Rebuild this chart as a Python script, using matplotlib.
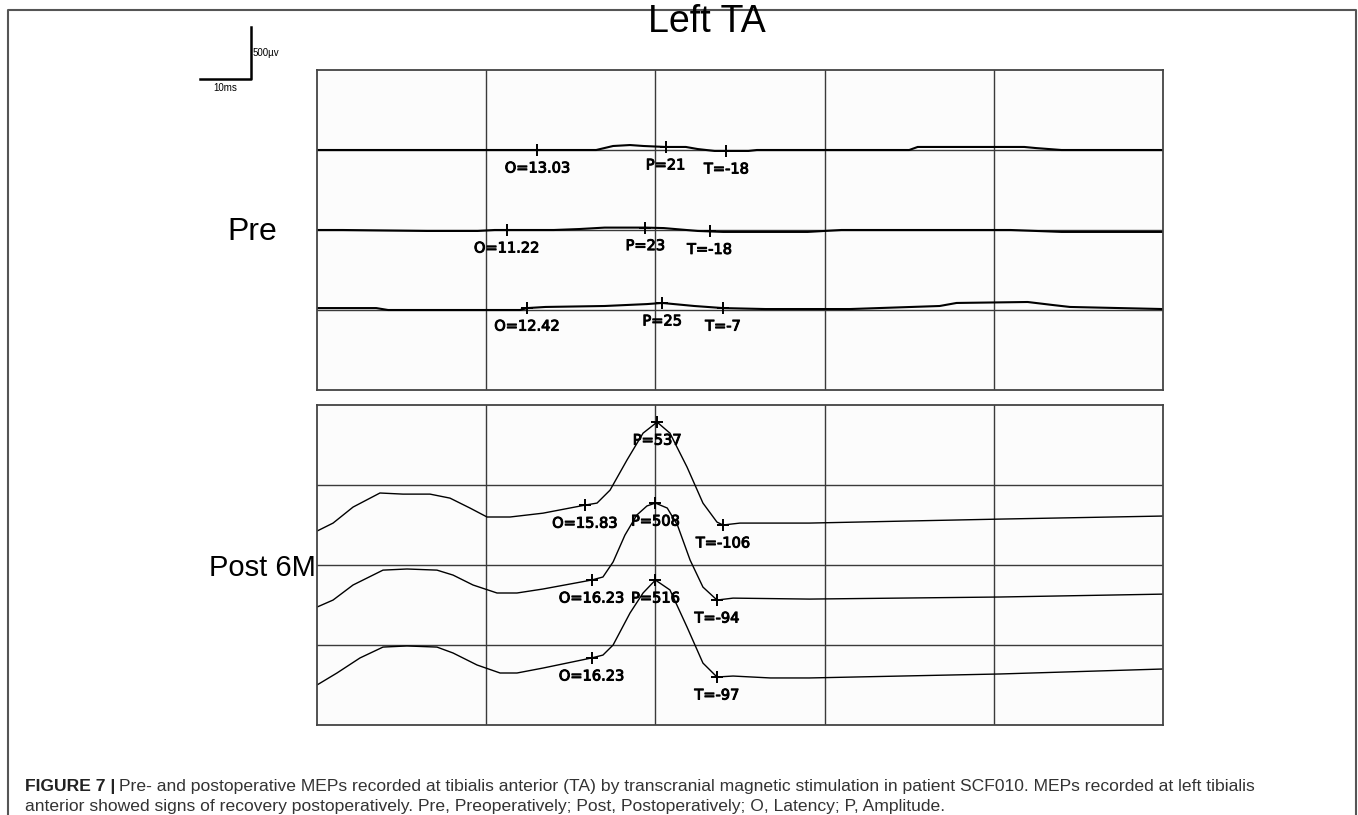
#!/usr/bin/env python3
"""
Left TA MEP traces, pre vs post 6 months
"""

import numpy as np
import matplotlib
matplotlib.use('Agg')
import matplotlib.pyplot as plt
import matplotlib.patheffects as pe
from matplotlib.lines import Line2D

W, H = 1358, 815

# ---- data: time (ms) and amplitude (uV, relative to each trace baseline) ----
pre1_t = [0, 10, 16.5, 17.5, 18.5, 19.3, 20.6, 21.8, 22.5, 23.5, 25.5, 26.0, 35.0, 35.5, 41.8, 42.5, 44.0, 50]
pre1_v = [0, 0, 0, 25, 31, 25, 19, 19, 6, -6, -6, 0, 0, 19, 19, 12, 0, 0]
pre2_t = [0, 1.5, 6.5, 9.5, 10.5, 14.0, 15.5, 17.0, 18.5, 19.4, 20.5, 22.5, 24.0, 29.0, 31.0, 41.0, 44.0, 50]
pre2_v = [0, 0, -6, -6, 0, 0, 6, 15, 15, 15, 12, -6, -12, -12, 0, 0, -12, -12]
pre3_t = [0, 3.5, 4.2, 12.0, 12.42, 13.5, 17.0, 19.5, 20.4, 22.3, 24.0, 26.5, 31.5, 36.8, 37.8, 42.0, 43.5, 44.5, 50]
pre3_v = [12, 12, 0, 0, 12, 19, 25, 37, 44, 25, 12, 6, 6, 25, 44, 50, 31, 19, 6]

post1_t = [0, 0.95, 2.13, 3.72, 5.08, 6.68, 7.86, 9.04, 10.05, 11.41, 13.36, 15.83, 16.55, 17.32, 18.32,
           19.27, 20.1, 20.86, 21.87, 22.81, 23.64, 24.0, 25.0, 26.8, 29.1, 34.5, 40.4, 50]
post1_v = [-50, 0, 100, 188, 181, 181, 156, 94, 38, 38, 62, 112, 125, 206, 394,
           562, 631, 562, 350, 125, 6, -12, 0, 0, 0, 12, 25, 44]
post2_t = [0, 0.95, 2.13, 3.9, 5.32, 7.09, 8.04, 9.22, 10.64, 11.82, 13.36, 16.23, 16.9, 17.5, 18.2,
           18.9, 19.5, 20.0, 20.7, 21.3, 22.05, 22.81, 23.64, 24.59, 29.1, 40.4, 50]
post2_v = [-44, 0, 94, 187, 194, 187, 156, 94, 44, 44, 69, 125, 144, 238, 406,
           531, 588, 606, 575, 469, 250, 81, 0, 12, 6, 19, 37]
post3_t = [0, 1.18, 2.54, 3.9, 5.32, 7.09, 8.04, 9.46, 10.82, 11.82, 13.36, 16.23, 16.9, 17.5, 18.5,
           19.27, 20.0, 20.86, 21.87, 22.81, 23.64, 24.59, 26.8, 29.1, 40.4, 50]
post3_v = [-50, 25, 119, 187, 194, 187, 150, 75, 25, 25, 56, 119, 137, 200, 400,
           525, 606, 544, 312, 87, 0, 6, -6, -6, 19, 50]

# marker times (ms) and labels
pre_marks = [
    [(13.03, 'O=13.03'), (20.6, 'P=21'), (24.2, 'T=-18')],
    [(11.22, 'O=11.22'), (19.4, 'P=23'), (23.2, 'T=-18')],
    [(12.42, 'O=12.42'), (20.4, 'P=25'), (24.0, 'T=-7')],
]
post_marks = [
    [(15.83, 'O=15.83'), (20.1, 'P=537'), (24.0, 'T=-106')],
    [(16.23, 'O=16.23'), (20.0, 'P=508'), (23.64, 'T=-94')],
    [(16.23, 'O=16.23'), (20.0, 'P=516'), (23.64, 'T=-97')],
]

pre_traces = [(pre1_t, pre1_v), (pre2_t, pre2_v), (pre3_t, pre3_v)]
post_traces = [(post1_t, post1_v), (post2_t, post2_v), (post3_t, post3_v)]
pre_base = [1500, 1000, 500]
post_base = [1262, 781, 300]

fig = plt.figure(figsize=(W / 100, H / 100), dpi=100)


def fx(x):
    return x / W


def fy(y):
    return 1 - y / H


def panel(top_px, traces, bases, marks, lw):
    ax = fig.add_axes([fx(317), fy(top_px + 320), 846 / W, 320 / H])
    ax.set_facecolor('#fcfcfc')
    ax.set_xlim(0, 50)
    ax.set_ylim(0, 2000)
    ax.set_xticks([10, 20, 30, 40])
    ax.set_yticks([500, 1000, 1500])
    ax.tick_params(length=0, labelbottom=False, labelleft=False)
    ax.grid(True, color='#3a3a3a', linewidth=1.0)
    ax.set_axisbelow(True)
    for sp in ax.spines.values():
        sp.set_color('#444444')
        sp.set_linewidth(1.3)
    for (t, v), b, mk in zip(traces, bases, marks):
        t = np.array(t)
        v = np.array(v) + b
        ax.plot(t, v, color='black', linewidth=lw)
        for tm, lab in mk:
            ym = np.interp(tm, t, v)
            ax.plot(tm, ym, marker='+', color='black', markersize=9, mew=1.4)
            ax.annotate(lab, (tm, ym), xytext=(0, -18), textcoords='offset pixels',
                        ha='center', va='center', fontsize=10.5, color='black',
                        family='DejaVu Sans',
                        path_effects=[pe.withStroke(linewidth=0.7, foreground='black')])
    return ax


panel(70, pre_traces, pre_base, pre_marks, 1.5)
panel(405, post_traces, post_base, post_marks, 1.0)

# titles / row labels
fig.text(fx(707), fy(22), 'Left TA', ha='center', va='center', fontsize=27, family='Liberation Sans')
fig.text(fx(252), fy(232), 'Pre', ha='center', va='center', fontsize=23, family='Liberation Sans')
fig.text(fx(316), fy(568), 'Post 6M', ha='right', va='center', fontsize=21, family='Liberation Sans')

# scale bar
fig.add_artist(Line2D([fx(200), fx(251), fx(251)], [fy(79), fy(79), fy(27)],
                      transform=fig.transFigure, color='black', linewidth=1.8))
fig.text(fx(253), fy(53), '500\u00b5v', ha='left', va='center', fontsize=7, family='Liberation Sans')
fig.text(fx(225), fy(88), '10ms', ha='center', va='center', fontsize=7, family='Liberation Sans')

# outer frame (open at the bottom)
fig.add_artist(Line2D([fx(8), fx(8), fx(1356), fx(1356)], [0, fy(10), fy(10), 0],
                      transform=fig.transFigure, color='#555555', linewidth=1.5))

# caption
fs = 12.6
t1 = fig.text(fx(25), fy(787), 'FIGURE 7 |', ha='left', va='center', fontsize=fs,
              fontweight='bold', color='#222222', family='Liberation Sans')
fig.canvas.draw()
bb = t1.get_window_extent()
fig.text(fx(bb.x1 + 4), fy(787),
         'Pre- and postoperative MEPs recorded at tibialis anterior (TA) by transcranial magnetic '
         'stimulation in patient SCF010. MEPs recorded at left tibialis',
         ha='left', va='center', fontsize=fs, color='#333333', family='Liberation Sans')
fig.text(fx(25), fy(806),
         'anterior showed signs of recovery postoperatively. Pre, Preoperatively; Post, Postoperatively; '
         'O, Latency; P, Amplitude.',
         ha='left', va='center', fontsize=fs, color='#333333', family='Liberation Sans')

plt.savefig('out.png', dpi=100)
